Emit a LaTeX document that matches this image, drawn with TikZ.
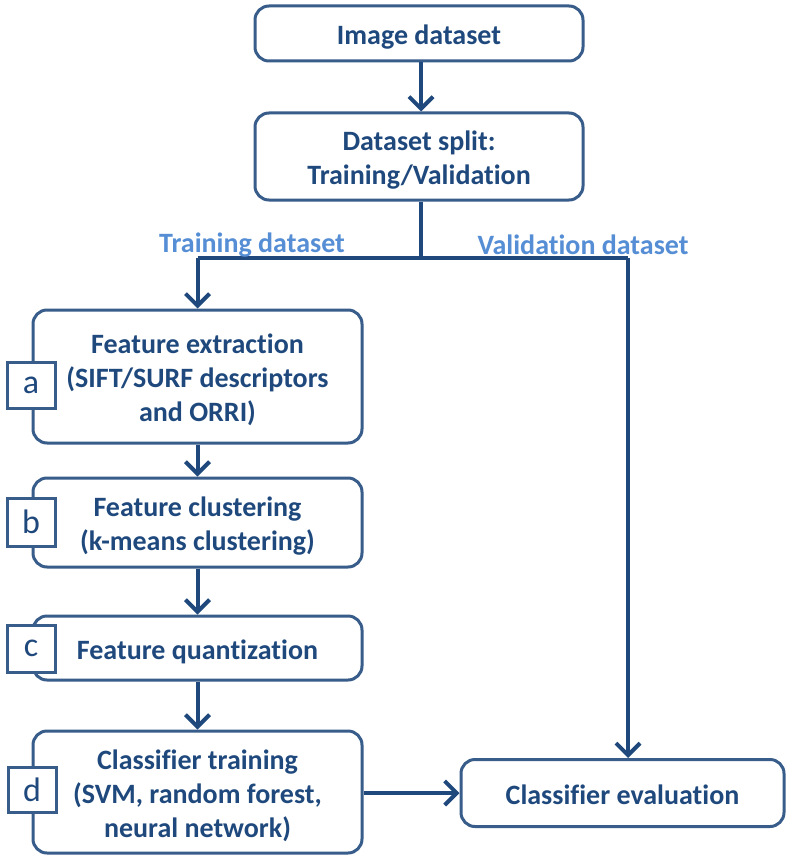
\documentclass[tikz,border=0pt]{standalone}
\usepackage{fontspec}
\setmainfont{Carlito}[Ligatures=NoCommon, Contextuals=NoAlternate]
\usetikzlibrary{arrows.meta}
\definecolor{txt}{HTML}{1F497D}
\definecolor{brd}{HTML}{385D8A}
\definecolor{lbl}{HTML}{558ED5}
\newcommand{\dnt}[1]{\raisebox{-4.5pt}[\height][\depth]{\begin{tabular}{@{}c@{}}#1\end{tabular}}}
\tikzset{
  stepbox/.style={draw=brd, line width=3pt, rounded corners=14pt, fill=white,
    text=txt, align=center, font=\fontsize{28}{34}\selectfont\bfseries, inner sep=0pt},
  letterbox/.style={draw=brd, line width=3pt, fill=white, text=txt,
    minimum width=48pt, minimum height=46pt, inner sep=0pt,
    font=\fontsize{34}{34}\selectfont},
  conn/.style={draw=txt, line width=4pt},
  arr/.style={conn, -{Straight Barb[length=12pt,width=24pt,line width=4pt]}},
  lab/.style={text=lbl, font=\fontsize{28}{34}\selectfont\bfseries, inner sep=0pt}
}
\begin{document}
\begin{tikzpicture}[x=1pt,y=-1pt]
\useasboundingbox (0,0) rectangle (785,856);
\fill[white] (0,0) rectangle (785,856);

\node[stepbox, minimum width=328pt, minimum height=55pt] (img) at (419,33.5) {\dnt{Image dataset}};
\node[stepbox, minimum width=328pt, minimum height=87pt] (split) at (419,156.5) {\dnt{Dataset split:\\Training/Validation}};
\node[stepbox, minimum width=329pt, minimum height=133pt] (fe) at (197.5,376.5) {\dnt{Feature extraction\\(SIFT/SURF descriptors\\and ORRI)}};
\node[stepbox, minimum width=329pt, minimum height=89pt] (fc) at (197.5,522.5) {\dnt{Feature clustering\\(k-means clustering)}};
\node[stepbox, minimum width=329pt, minimum height=64pt] (fq) at (197.5,648) {\dnt{Feature quantization}};
\node[stepbox, minimum width=329pt, minimum height=122pt] (ct) at (197.5,792) {\dnt{Classifier training\\(SVM, random forest,\\neural network)}};
\node[stepbox, minimum width=323pt, minimum height=67pt] (ce) at (622.5,793) {\dnt{Classifier evaluation}};

\node[letterbox] (la) at (31,385) {a};
\node[letterbox, minimum height=48pt] (lb) at (31,522) {b};
\node[letterbox, minimum height=47pt] (lc) at (31,648.5) {c};
\node[letterbox, minimum height=45pt] (ld) at (32,789.5) {d};

\coordinate (j) at (421,258);
\coordinate (jl) at (197.5,258);
\coordinate (jr) at (628,258);

\draw[arr] (img.south -| j) -- (split.north -| j);
\draw[conn] (split.south -| j) -- (j);
\draw[conn] (jl) -- (jr);
\draw[arr] (jl) -- (fe.north);
\draw[arr] (jr) -- (jr |- ce.north);
\draw[arr] (fe.south) -- (fc.north);
\draw[arr] (fc.south) -- (fq.north);
\draw[arr] (fq.south) -- (ct.north);
\draw[arr] (ct.east |- ce.west) -- (ce.west);

\node[lab] (tl) at (252,245) {Training dataset};
\node[lab] (vl) at (583,245) {Validation dataset};
\end{tikzpicture}
\end{document}
